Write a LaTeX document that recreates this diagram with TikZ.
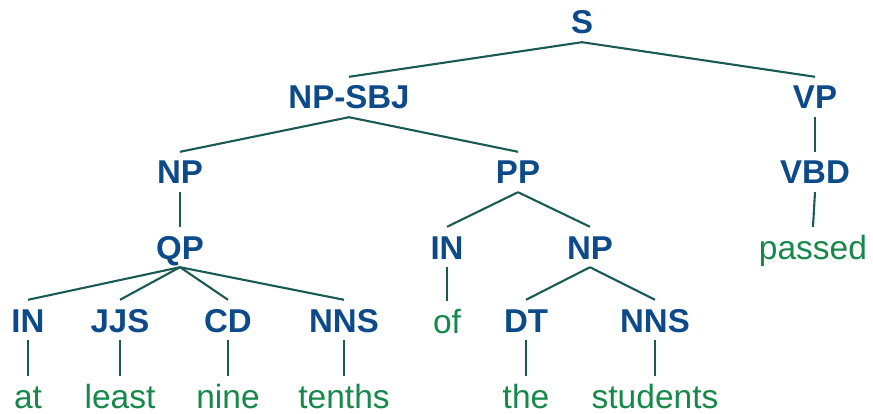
\documentclass[tikz,border=0pt]{standalone}
\usepackage{fontspec}
\usepackage{tikz}
\newfontfamily\treefont{Liberation Sans}
\definecolor{ccat}{HTML}{0C4A8A}
\definecolor{cword}{HTML}{15884A}
\definecolor{cedge}{HTML}{1A5A55}
\tikzset{
  cat/.style={inner xsep=2pt, inner ysep=8pt, text height=24pt, text depth=0pt,
    font=\treefont\bfseries\fontsize{33}{36}\selectfont, text=ccat},
  word/.style={cat, font=\treefont\fontsize{33.5}{36}\selectfont, text=cword},
  branch/.style={draw=cedge, line width=2.1pt},
}

\begin{document}
\begin{tikzpicture}[x=1pt,y=-1pt]
\useasboundingbox (0,0) rectangle (873,414);
% upper levels of the tree
\node[cat] (S) at (582,22) {S};
\node[cat] (npsbj) at (349,97) {NP-SBJ};
\node[cat] (vp) at (815,97) {VP};
\node[cat] (np) at (180,172) {NP};
\node[cat] (pp) at (518,172) {PP};
\node[cat] (vbd) at (815,172) {VBD};
\node[cat] (qp) at (180,247) {QP};
\node[cat] (in) at (447,247) {IN};
\node[cat] (npb) at (590,247) {NP};
\node[word] (passed) at (813,247) {passed};
\node[word] (of) at (447,321) {of};
\draw[branch] (S.south) -- (npsbj.north);
\draw[branch] (S.south) -- (vp.north);
\draw[branch] (npsbj.south) -- (np.north);
\draw[branch] (npsbj.south) -- (pp.north);
\draw[branch] (vp.south) -- (vbd.north);
\draw[branch] (vbd.south) -- (passed.north);
\draw[branch] (np.south) -- (qp.north);
\draw[branch] (pp.south) -- (in.north);
\draw[branch] (pp.south) -- (npb.north);
\draw[branch] (in.south) -- (of.north);
% preterminals and their words
\foreach \n/\x/\t/\w/\p in {a/28/IN/at/qp, b/120/JJS/least/qp, c/228/CD/nine/qp, d/344/NNS/tenths/qp, e/526/DT/the/npb, f/655/NNS/students/npb}{
  \node[cat] (t\n) at (\x,320) {\t};
  \node[word] (w\n) at (\x,396) {\w};
  \draw[branch] (\p.south) -- (t\n.north);
  \draw[branch] (t\n.south) -- (w\n.north);
}
\end{tikzpicture}
\end{document}
